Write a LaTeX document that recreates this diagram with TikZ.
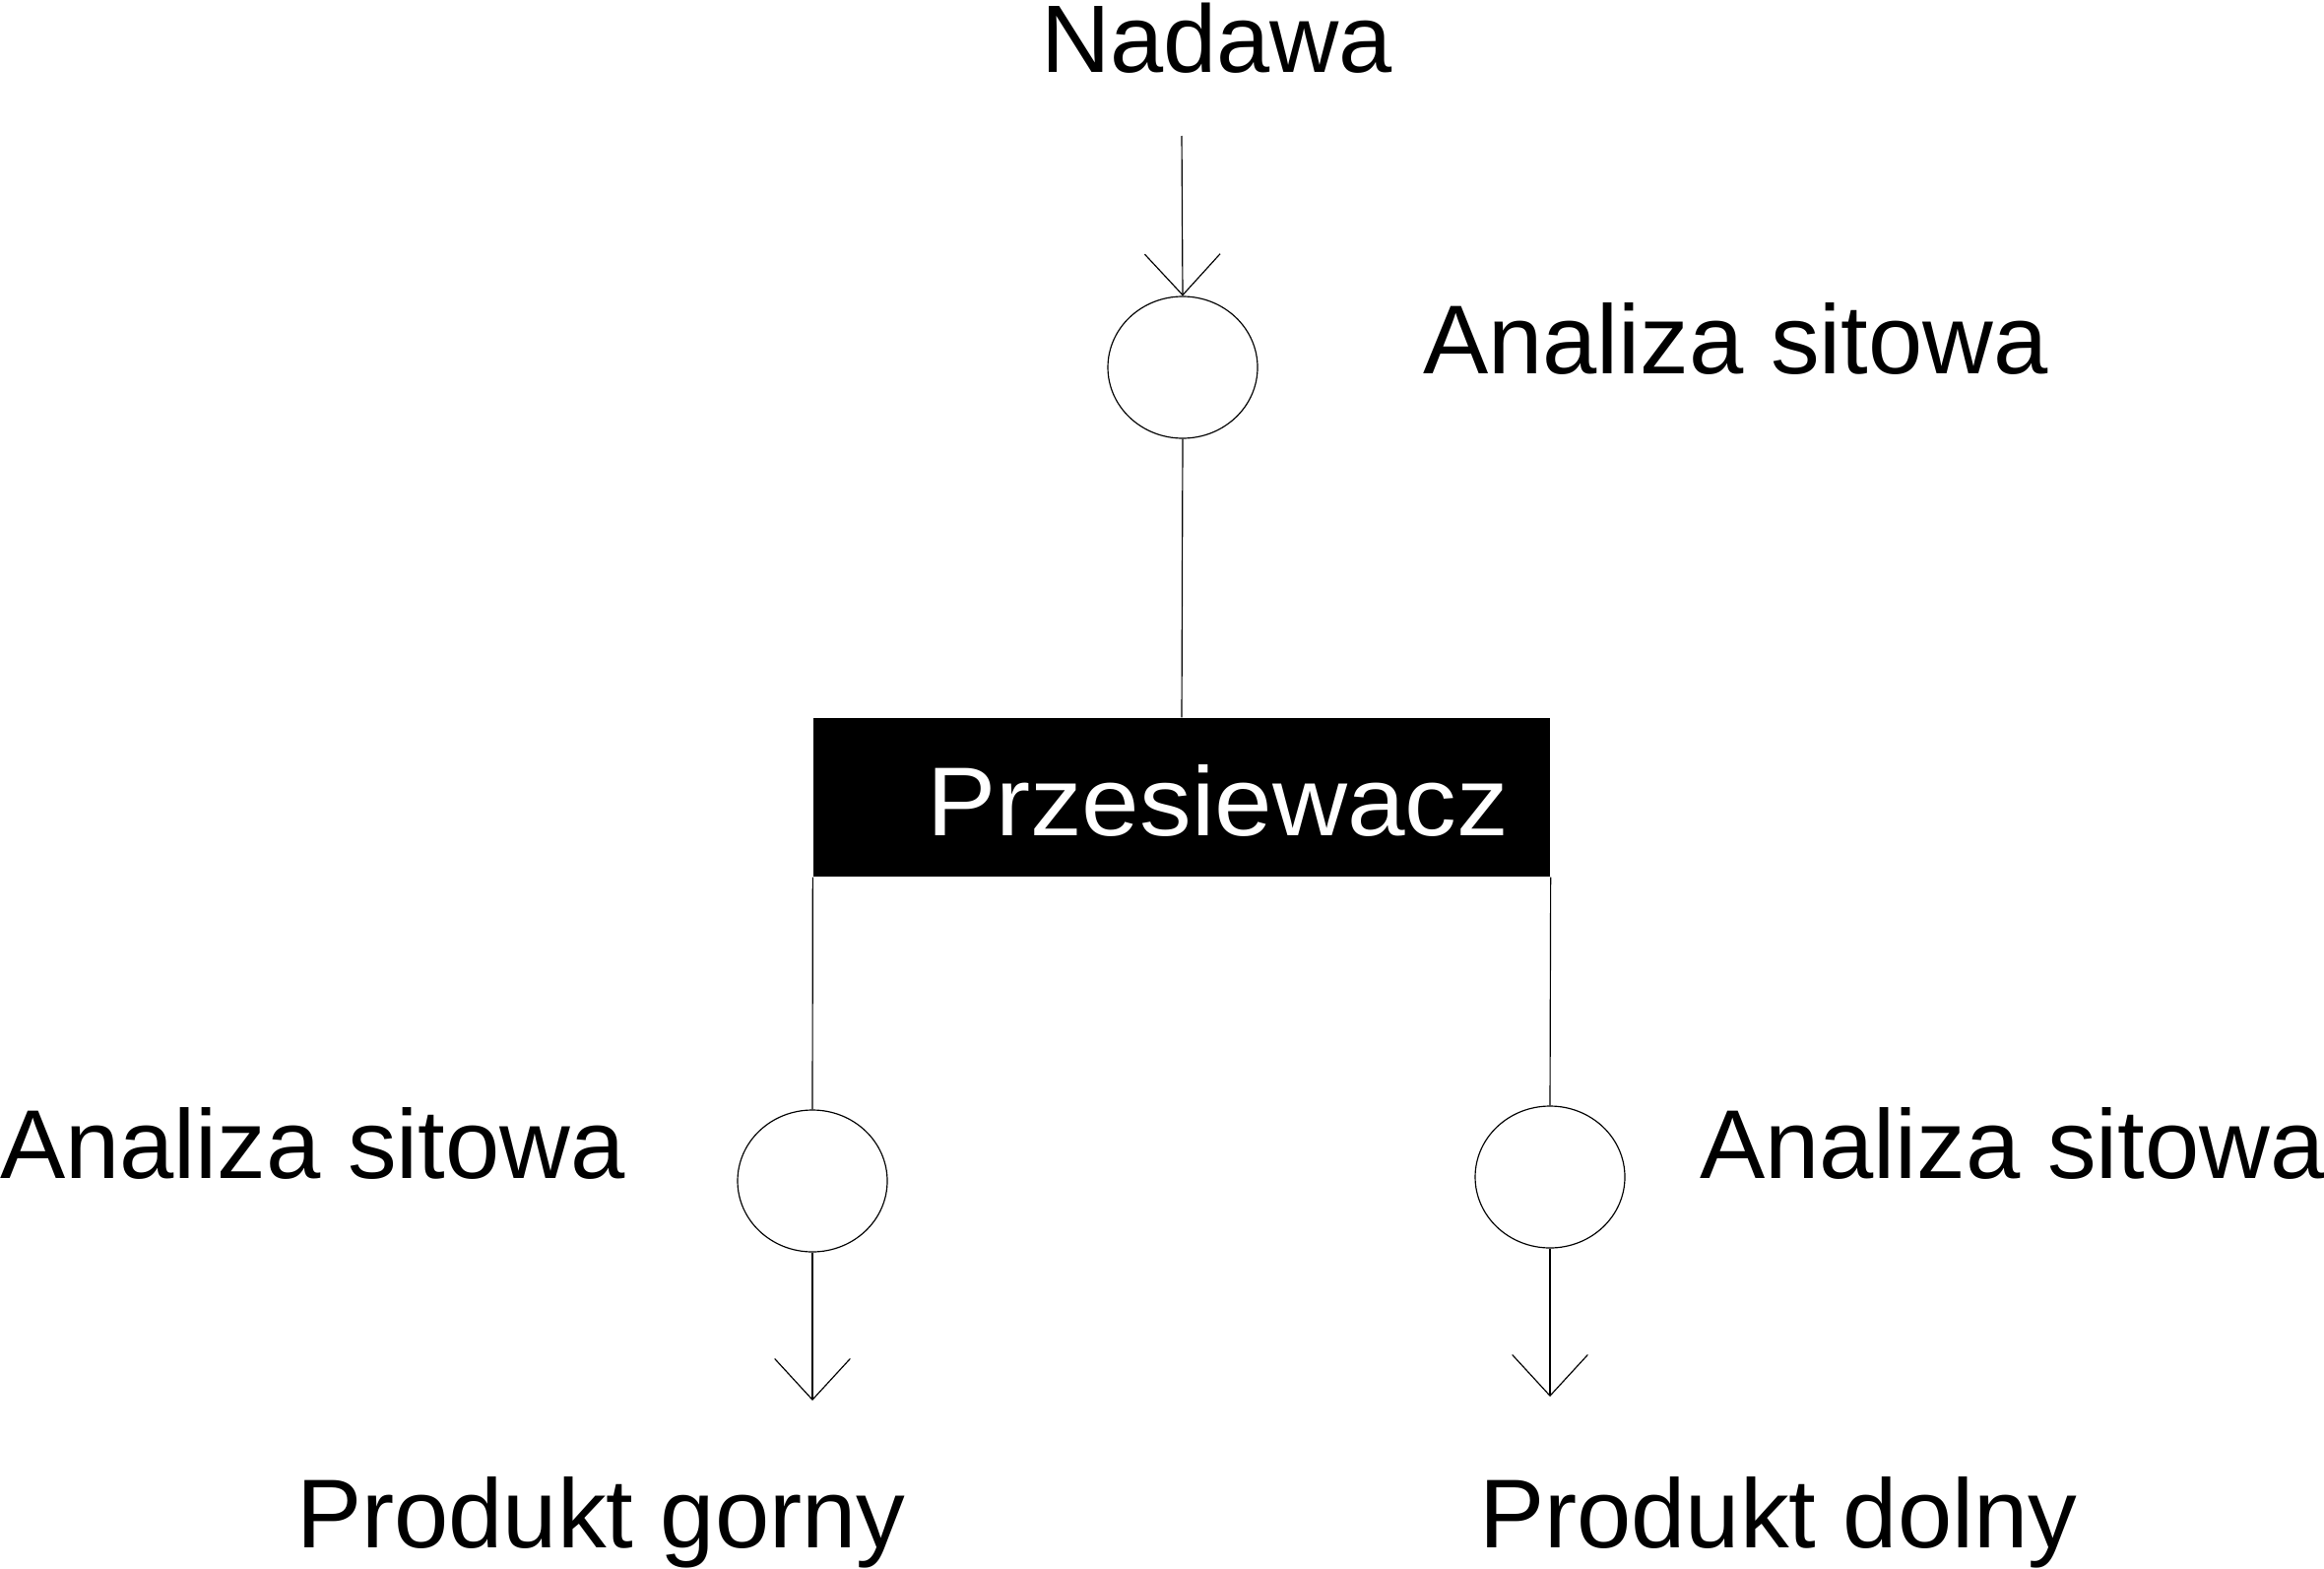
\documentclass[tikz,border=0pt]{standalone}
\usepackage{graphicx}
\usepackage{fontspec}
\setmainfont{Liberation Sans}
\usetikzlibrary{shapes.geometric,arrows.meta}
\begin{document}
\begin{tikzpicture}[x=0.3pt,y=-0.3pt,
  lbl/.style={anchor=base west,inner sep=0pt,outer sep=0pt,font=\fontsize{29.8pt}{34pt}\selectfont},
  probe/.style={draw,ellipse,line width=0.35pt,inner sep=0pt,minimum width=45.6pt,minimum height=43.2pt},
  flow/.style={line width=0.35pt},
  flowarrow/.style={line width=0.35pt,-{Straight Barb[length=12.5pt,width=23pt]}},
  unit/.style={fill=black,inner sep=0pt,minimum width=224.4pt,minimum height=48.3pt}]
\useasboundingbox (0,0) rectangle (2360,1592);
% texts
\node[lbl,font=\fontsize{29.2pt}{34pt}\selectfont] (nadawa) at (1057,74) {Nadawa};
\node[lbl] (a1) at (1445,379) {Analiza sitowa};
\node[lbl] (a2) at (0,1196) {Analiza sitowa};
\node[lbl] (a3) at (1726,1196) {Analiza sitowa};
\node[lbl] (pg) at (301,1571) {Produkt gorny};
\node[lbl] (pd) at (1502,1571) {Produkt dolny};
% unit
\node[unit] (box) at (1200,809.5) {};
\node[lbl,text=white] (boxtxt) at (941,848) {\scalebox{1.06}[1]{Przesiewacz}};
% sampling points
\node[probe] (c1) at (1201,373) {};
\node[probe] (c2) at (825,1199) {};
\node[probe] (c3) at (1574,1195) {};
% free ends
\coordinate (in) at (1200,138);
\coordinate (out1) at (825,1422);
\coordinate (out2) at (1574,1418);
% connectors
\draw[flowarrow] (in) -- (c1.north);
\draw[flow] (c1.south) -- (box.north);
\draw[flow] (box.south west) -- (c2.north);
\draw[flow] (box.south east) -- (c3.north);
\draw[flowarrow] (c2.south) -- (out1);
\draw[flowarrow] (c3.south) -- (out2);
\end{tikzpicture}
\end{document}
